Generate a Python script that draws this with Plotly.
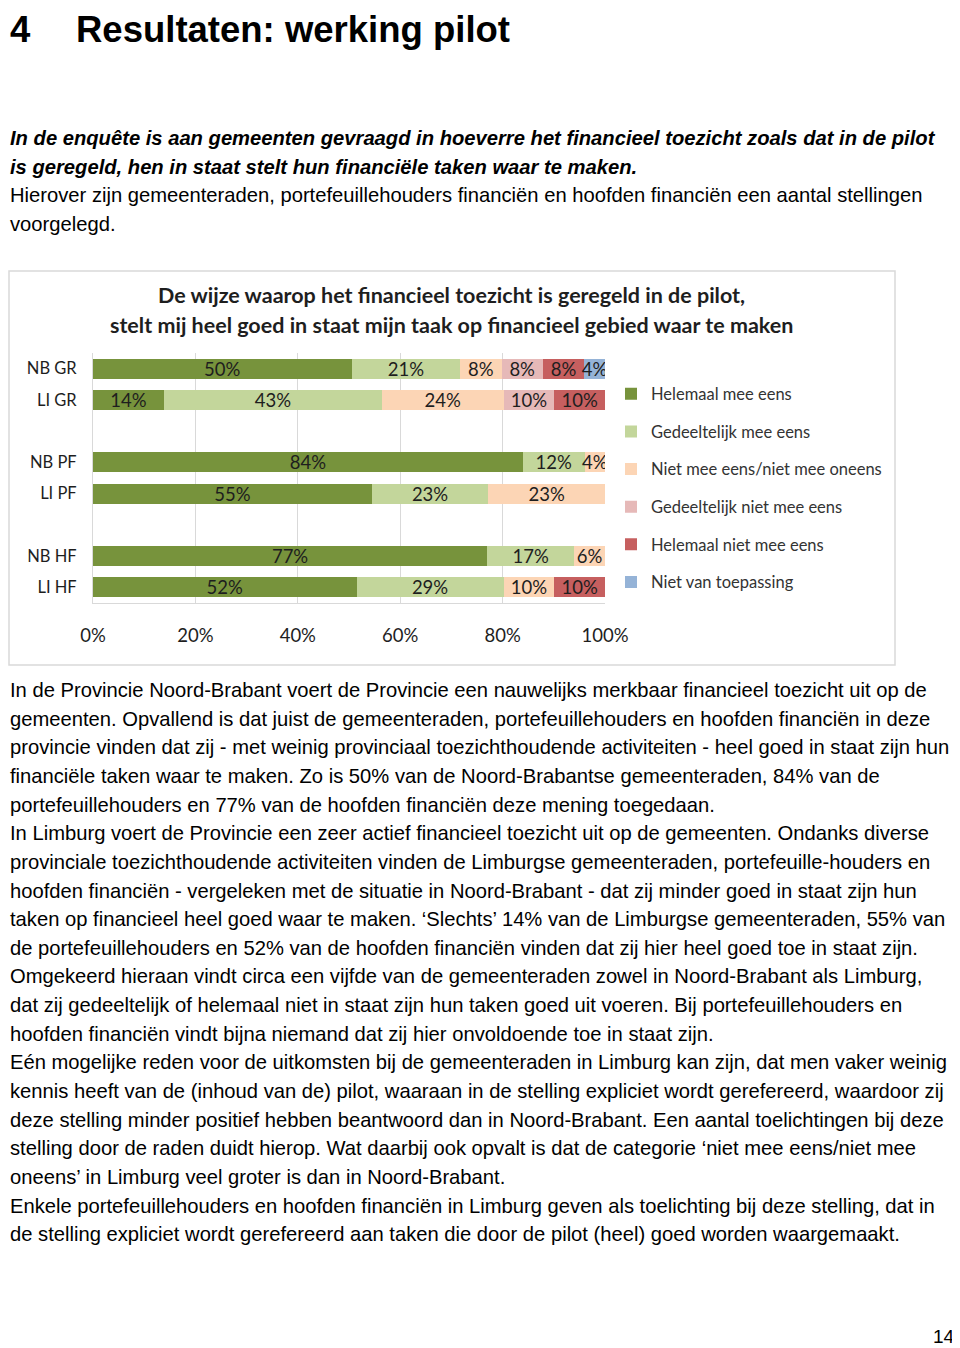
import plotly.graph_objects as go

W, H = 960, 1348

# ---------------- data ----------------
rows = ["NB GR", "LI GR", "NB PF", "LI PF", "NB HF", "LI HF"]
series_names = [
    "Helemaal mee eens",
    "Gedeeltelijk mee eens",
    "Niet mee eens/niet mee oneens",
    "Gedeeltelijk niet mee eens",
    "Helemaal niet mee eens",
    "Niet van toepassing",
]
helemaal_mee_eens = [50, 14, 84, 55, 77, 52]
gedeeltelijk_mee_eens = [21, 43, 12, 23, 17, 29]
niet_mee_eens_niet_oneens = [8, 24, 4, 23, 6, 10]
gedeeltelijk_niet_mee_eens = [8, 10, 0, 0, 0, 0]
helemaal_niet_mee_eens = [8, 10, 0, 0, 0, 10]
niet_van_toepassing = [4, 0, 0, 0, 0, 0]
x_tick_values = [0, 20, 40, 60, 80, 100]
x_tick_labels = ["0%", "20%", "40%", "60%", "80%", "100%"]

series_values = [
    helemaal_mee_eens,
    gedeeltelijk_mee_eens,
    niet_mee_eens_niet_oneens,
    gedeeltelijk_niet_mee_eens,
    helemaal_niet_mee_eens,
    niet_van_toepassing,
]
colors = ["#77933C", "#C3D69B", "#FCD5B5", "#E6B9B8", "#C65F5F", "#95B3D7"]

# blank categories used as spacing between the groups
gap_after = {"LI GR": " ", "LI PF": "  "}

chart_title_1 = "De wijze waarop het financieel toezicht is geregeld in de pilot,"
chart_title_2 = "stelt mij heel goed in staat mijn taak op financieel gebied waar te maken"

heading_num = "4"
heading_text = "Resultaten: werking pilot"

intro_bold = [
    "In de enquête is aan gemeenten gevraagd in hoeverre het financieel toezicht zoals dat in de pilot",
    "is geregeld, hen in staat stelt hun financiële taken waar te maken.",
]
intro_plain = [
    "Hierover zijn gemeenteraden, portefeuillehouders financiën en hoofden financiën een aantal stellingen",
    "voorgelegd.",
]
body_lines = [
    "In de Provincie Noord-Brabant voert de Provincie een nauwelijks merkbaar financieel toezicht uit op de",
    "gemeenten. Opvallend is dat juist de gemeenteraden, portefeuillehouders en hoofden financiën in deze",
    "provincie vinden dat zij - met weinig provinciaal toezichthoudende activiteiten - heel goed in staat zijn hun",
    "financiële taken waar te maken. Zo is 50% van de Noord-Brabantse gemeenteraden, 84% van de",
    "portefeuillehouders en 77% van de hoofden financiën deze mening toegedaan.",
    "In Limburg voert de Provincie een zeer actief financieel toezicht uit op de gemeenten. Ondanks diverse",
    "provinciale toezichthoudende activiteiten vinden de Limburgse gemeenteraden, portefeuille-houders en",
    "hoofden financiën - vergeleken met de situatie in Noord-Brabant - dat zij minder goed in staat zijn hun",
    "taken op financieel heel goed waar te maken. ‘Slechts’ 14% van de Limburgse gemeenteraden, 55% van",
    "de portefeuillehouders en 52% van de hoofden financiën vinden dat zij hier heel goed toe in staat zijn.",
    "Omgekeerd hieraan vindt circa een vijfde van de gemeenteraden zowel in Noord-Brabant als Limburg,",
    "dat zij gedeeltelijk of helemaal niet in staat zijn hun taken goed uit voeren. Bij portefeuillehouders en",
    "hoofden financiën vindt bijna niemand dat zij hier onvoldoende toe in staat zijn.",
    "Eén mogelijke reden voor de uitkomsten bij de gemeenteraden in Limburg kan zijn, dat men vaker weinig",
    "kennis heeft van de (inhoud van de) pilot, waaraan in de stelling expliciet wordt gerefereerd, waardoor zij",
    "deze stelling minder positief hebben beantwoord dan in Noord-Brabant. Een aantal toelichtingen bij deze",
    "stelling door de raden duidt hierop. Wat daarbij ook opvalt is dat de categorie ‘niet mee eens/niet mee",
    "oneens’ in Limburg veel groter is dan in Noord-Brabant.",
    "Enkele portefeuillehouders en hoofden financiën in Limburg geven als toelichting bij deze stelling, dat in",
    "de stelling expliciet wordt gerefereerd aan taken die door de pilot (heel) goed worden waargemaakt.",
]
page_number = "14"

# ---------------- helpers ----------------
# the page body adds an 8 px offset; positions below are page pixels
OFF = 8


def px_x(x):
    return (x - OFF) / W


def px_y(y):
    return 1 - (y - OFF) / H


def expand(vals):
    ys, xs, ts = [], [], []
    for r, v in zip(rows, vals):
        ys.append(r)
        xs.append(v)
        ts.append(f"{v}%" if v else "")
        if r in gap_after:
            ys.append(gap_after[r])
            xs.append(None)
            ts.append("")
    return ys, xs, ts


category_array = []
for r in rows:
    category_array.append(r)
    if r in gap_after:
        category_array.append(gap_after[r])

CHART_FONT = "Lato, 'Open Sans', sans-serif"
BODY_FONT = "'Liberation Sans', Arial, sans-serif"
TEXT_COLOR = "#1e1e1e"

fig = go.Figure()
for name, vals, col in zip(series_names, series_values, colors):
    ys, xs, ts = expand(vals)
    fig.add_trace(
        go.Bar(
            y=ys,
            x=xs,
            name=name,
            orientation="h",
            marker=dict(color=col, line=dict(width=0)),
            text=ts,
            textposition="inside",
            insidetextanchor="middle",
            textangle=0,
            constraintext="none",
            textfont=dict(family=CHART_FONT, size=18.5, color=TEXT_COLOR),
            legendgroup=name,
            hoverinfo="skip",
        )
    )

annotations = []
# chart title
for txt, y in [(chart_title_1, 295), (chart_title_2, 325)]:
    annotations.append(dict(
        text=txt, x=px_x(451), y=px_y(y), xref="paper", yref="paper",
        xanchor="center", yanchor="middle", showarrow=False,
        font=dict(family=CHART_FONT, size=21.5, color=TEXT_COLOR, weight="bold"),
    ))

# heading
HEAD_Y = 29.5
annotations.append(dict(
    text=heading_num, x=0, y=px_y(HEAD_Y), xref="paper", yref="paper",
    xanchor="left", yanchor="middle", showarrow=False,
    font=dict(family=BODY_FONT, size=36.5, color="#000000", weight="bold"),
))
annotations.append(dict(
    text=heading_text, x=px_x(74), y=px_y(HEAD_Y), xref="paper", yref="paper",
    xanchor="left", yanchor="middle", showarrow=False,
    font=dict(family=BODY_FONT, size=36.5, color="#000000", weight="bold"),
))

LINE_STEP = 28.65
BODY_SIZE = 20.2


def add_line(txt, y, bold_italic=False):
    f = dict(family=BODY_FONT, size=BODY_SIZE, color="#000000")
    if bold_italic:
        f["weight"] = "bold"
        f["style"] = "italic"
    annotations.append(dict(
        text=txt, x=0, y=px_y(y), xref="paper", yref="paper",
        xanchor="left", yanchor="middle", showarrow=False, font=f,
    ))


y0 = 138
for i, t in enumerate(intro_bold):
    add_line(t, y0 + i * LINE_STEP, True)
for i, t in enumerate(intro_plain):
    add_line(t, y0 + (i + 2) * LINE_STEP)

y1 = 690
for i, t in enumerate(body_lines):
    add_line(t, y1 + i * LINE_STEP)

annotations.append(dict(
    text=page_number, x=px_x(957), y=px_y(1336), xref="paper", yref="paper",
    xanchor="right", yanchor="middle", showarrow=False,
    font=dict(family=BODY_FONT, size=19, color="#000000"),
))

shapes = [dict(
    type="rect", xref="paper", yref="paper",
    x0=px_x(9), x1=px_x(895), y0=px_y(665), y1=px_y(271),
    line=dict(color="#D9D9D9", width=1.5), fillcolor="rgba(0,0,0,0)", layer="below",
)]

fig.update_layout(
    width=W,
    height=H,
    autosize=False,
    margin=dict(l=0, r=0, t=0, b=0, pad=0, autoexpand=False),
    paper_bgcolor="white",
    plot_bgcolor="white",
    barmode="stack",
    barnorm="percent",
    bargap=0.36,
    uniformtext=dict(minsize=18, mode="show"),
    showlegend=True,
    legend=dict(
        x=px_x(611), y=px_y(376.5), xanchor="left", yanchor="top",
        traceorder="grouped", tracegroupgap=13.2,
        font=dict(family=CHART_FONT, size=16.5, color="#333333"),
        bgcolor="rgba(0,0,0,0)", itemclick=False, itemdoubleclick=False,
    ),
    xaxis=dict(
        domain=[px_x(93), px_x(605)],
        range=[0, 100],
        tickvals=x_tick_values,
        ticktext=x_tick_labels,
        showgrid=True, gridcolor="#D9D9D9", gridwidth=1,
        zeroline=False, automargin=False,
        showline=True, linecolor="#D9D9D9", linewidth=1,
        ticks="", ticklabelstandoff=16,
        tickfont=dict(family=CHART_FONT, size=18.5, color=TEXT_COLOR),
        fixedrange=True,
    ),
    yaxis=dict(
        domain=[px_y(603), px_y(353)],
        type="category",
        categoryorder="array",
        categoryarray=category_array,
        autorange="reversed",
        showgrid=False, zeroline=False, automargin=False,
        showline=True, linecolor="#D9D9D9", linewidth=1,
        ticks="", ticklabelstandoff=12,
        tickfont=dict(family=CHART_FONT, size=16.5, color=TEXT_COLOR),
        fixedrange=True,
    ),
    annotations=annotations,
    shapes=shapes,
)

fig.write_html("out.html")
